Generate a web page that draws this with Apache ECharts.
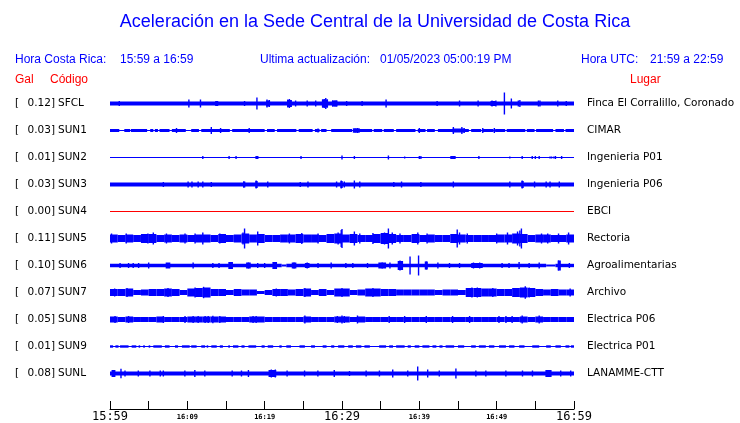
<!DOCTYPE html>
<html><head><meta charset="utf-8">
<script src="https://cdn.jsdelivr.net/npm/echarts@6/dist/echarts.min.js"></script>
<style>html,body{margin:0;padding:0;background:#fff}#c{width:740px;height:423px}</style>
</head><body><div id="c"></div>
<script>
// ---------- labels ----------
const codes = ['SFCL','SUN1','SUN2','SUN3','SUN4','SUN5','SUN6','SUN7','SUN8','SUN9','SUNL'];
const galValues = ['0.12','0.03','0.01','0.03','0.00','0.11','0.10','0.07','0.05','0.01','0.08'];
const places = ['Finca El Corralillo, Coronado','CIMAR','Ingenieria P01','Ingenieria P06','EBCI','Rectoria','Agroalimentarias','Archivo','Electrica P06','Electrica P01','LANAMME-CTT'];
const tickLabels = ['15:59','16:09','16:19','16:29','16:39','16:49','16:59'];
const traceColors = ['#0000ff','#0000ff','#0000ff','#0000ff','#ff0000','#0000ff','#0000ff','#0000ff','#0000ff','#0000ff','#0000ff'];

// ---------- trace envelopes (minutes from 15:59, half-amplitude in display units) ----------
// bands: [startMin, endMin, half]; spikes: [min, half]; env: half per minute
const SFCL_bands = [[0,60,2],[13.6,14.0,2.5],[20.2,20.7,3],[22.9,23.5,3.5],[27.4,28.2,4],[28.7,29.4,3],[49.2,49.9,2.5]];
const SFCL_spikes = [[1.2,2.5],[10.2,4],[11.7,4],[17.4,2.5],[19.0,6],[20.3,4],[20.6,3.5],[23.0,4],[23.2,4.5],[23.4,3.5],[24.0,3],[25.5,3],[26.6,3],[27.5,4],[27.7,4.5],[27.9,5.5],[28.1,4],[28.8,3],[29.1,3],[29.3,3],[30.6,2.5],[32.6,2.5],[35.7,4],[42.3,2.5],[45.2,3],[47.6,3],[49.4,3],[49.9,3],[51.0,11],[51.9,5],[52.8,3],[53.0,3.5],[55.4,3],[55.6,3],[57.9,3],[59.0,2.5]];

const SUN1_bands = [[0,60,0.5],[0,1.2,1.5],[1.85,2.6,1.5],[2.7,4.8,1.5],[5.2,5.6,1.5],[5.8,6.2,1.5],[6.4,7.7,1.5],[8.0,9.8,1.5],[10.5,11.5,1.5],[11.8,15.5,1.5],[15.8,20.0,1.5],[20.3,21.3,1.5],[21.6,24.1,1.5],[24.4,26.2,1.5],[26.5,27.1,1.5],[27.3,28.0,1.5],[28.6,31.3,1.5],[31.4,32.3,2.2],[31.6,33.9,1.5],[34.1,35.2,1.5],[35.4,36.7,1.5],[37.0,39.5,1.5],[39.8,40.8,1.5],[41.0,42.0,1.5],[42.4,45.0,1.5],[44.3,45.8,2],[45.3,46.4,1.5],[46.7,48.0,1.5],[48.2,49.6,1.5],[49.8,51.1,1.5],[51.3,53.7,1.5],[53.9,54.9,1.5],[55.1,57.3,1.5],[57.6,58.7,1.5],[58.9,60,1.5]];
const SUN1_spikes = [[8.6,2.5],[13.1,3.5],[14.3,2.5],[18.0,2.5],[26.9,2],[31.7,2],[32.0,2.5],[40.0,2.5],[44.4,3.5],[45.5,3.5],[45.8,2.5],[48.2,2.5],[49.7,2.5]];

const SUN2_bands = [[0,60,0.5],[18.8,19.2,1.5],[44.0,44.7,1.5]];
const SUN2_spikes = [[12.0,1.5],[15.4,1.5],[16.3,1.5],[24.7,1.5],[30.0,2],[31.6,1.5],[36.0,2],[38.1,1],[40.0,1.5],[40.2,1.5],[47.7,1.5],[51.7,1],[53.3,1.5],[54.6,1.5],[55.0,1.5],[55.5,1.5],[56.9,1],[57.1,1],[57.4,1],[57.6,1.5],[58.4,1.5]];

const SUN3_bands = [[0,60,2],[17.2,17.5,3],[18.8,19.1,3.5],[29.8,30.1,3.5],[53.2,53.5,3.5]];
const SUN3_spikes = [[6.9,2.5],[10.1,3],[10.6,3],[11.4,3],[12.0,3],[13.1,2.5],[17.3,3],[18.9,4],[20.4,3],[24.6,2.5],[25.6,3],[29.3,3],[29.9,4],[30.3,3],[31.6,4],[32.3,3],[36.7,2.5],[37.7,3],[40.2,2.5],[44.4,3],[51.7,3],[53.3,4],[54.9,3],[56.4,3],[56.9,3],[58.1,3]];

const SUN4_bands = [[0,60,0.5]];
const SUN4_spikes = [];

const SUN5_env = [4,3.5,4,3.5,4.5,4.5,3.5,4,3.5,4,3.5,4,4,3.5,4.5,3.5,4,5,4,4.5,3.5,3.5,4,4,4.5,4,4,3.5,4.5,5,4,4.5,3.5,3.5,4.5,5.5,4.5,3.5,3.5,4.5,3.5,4,3.5,3.5,4.5,4,3.5,3.5,3.5,3.5,4,4,5,4.5,3.5,4,4,3.5,3.5,4];
const SUN5_spikes = [[0.2,5],[2.1,5],[4.9,5],[5.6,6],[7.3,5],[9.7,5],[11.0,5],[12.0,6],[14.2,5],[17.2,6],[17.4,10],[19.1,7],[23.2,5],[24.8,5.5],[26.9,5],[29.5,6],[29.9,8.5],[30.0,9.5],[31.6,7],[32.3,5],[34.0,5.5],[35.5,6],[36.0,10],[36.5,6],[37.5,5],[39.8,6],[41.0,5],[44.9,9],[45.2,6],[46.2,5],[50.0,5],[51.4,6],[52.7,7],[53.0,8],[53.2,10],[55.8,5],[56.6,5],[58.0,5],[59.3,6]];

const SUN6_bands = [[0,22.2,1.7],[22.2,22.8,1],[22.8,56.4,1.7],[56.4,57.6,1],[57.6,60,1.7],[7.2,7.8,3],[15.3,15.9,3.5],[17.6,18.2,3],[21.0,21.6,3.5],[23.5,24.1,3],[25.2,25.8,2.5],[34.7,35.7,3],[37.2,37.9,4.5],[40.7,41.1,4],[46.7,48.2,2.5],[57.9,58.3,5]];
const SUN6_spikes = [[1.3,2.5],[2.4,2.5],[3.0,2.5],[3.7,2.5],[5.0,3],[10.75,3],[13.3,2.5],[14.1,2.5],[15.6,3.5],[17.9,3],[19.1,2.5],[20.0,2.5],[21.3,3.5],[23.8,3],[25.5,3],[26.9,2.5],[28.6,3],[30.5,2.5],[31.4,2.5],[33.3,2.5],[35.2,3],[36.2,3],[37.5,5],[38.8,9],[39.9,10],[40.9,4],[42.4,3],[43.9,2.5],[45.2,2.5],[47.0,3],[47.8,3],[50.7,2.5],[51.6,2.5],[52.9,3.5],[54.2,2.5],[55.5,3],[58.0,5],[59.4,2.5]];

const SUN7_env = [3.5,3.5,4,2.5,3,3.5,3.5,4,3.5,2.5,4,4.5,5,3.5,3.5,2.5,3.5,3,3,1.5,2.5,3.5,3.5,3,3.5,4,2.5,3.5,2.5,4,4,2.5,3,4,4,3.5,3.5,3,3,3,3,3,2.5,3,3,2.5,4.5,4.5,4,4,3.5,3.5,4.5,5,4.5,3.5,3,3.5,3,3];
const SUN7_spikes = [[0.6,4],[2.2,4.5],[7.5,4.5],[11.0,5],[12.1,5.7],[21.5,4],[25.2,4.5],[30.0,4.5],[34.0,4.5],[46.8,5],[47.5,5],[49.5,4.5],[53.7,6.3],[54.2,5],[59.5,4]];

const SUN8_env = [3,2.5,3,2.5,2.5,2.5,3,2.5,2.5,2.5,3,3,3,3,3,2.5,2.5,2.5,3,3,2.5,2.5,2.5,2.5,2.5,3,2.5,2.5,2.5,3,3,2.5,3,2.5,2.5,2.5,2.5,2.5,2.5,2.5,2.5,2.5,2.5,2.5,2.5,2.5,2.5,2.5,2.5,2.5,2.5,2.5,2.5,3,2.5,3,2.5,2.5,2.5,2.5];
const SUN8_spikes = [[0.65,3.5],[2.4,3.5],[6.9,3.5],[9.7,3.5],[10.75,3.5],[11.4,3.5],[12.3,3.5],[12.7,3.5],[13.3,3.7],[14.2,3.5],[18.5,3.5],[18.9,3.5],[25.2,4],[29.4,3.5],[30.0,4],[30.3,3.5],[32.0,4],[36.1,3.5],[38.1,3.5],[40.9,3.5],[44.3,3.5],[46.5,3.5],[50.3,3.5],[51.2,3.5],[52.0,3.5],[53.3,4],[55.5,4]];

const SUN9_bands = [[0,60,0.5],[0.0,0.4,1.2],[0.7,1.1,1.2],[1.3,2.4,1.2],[2.8,3.4,1.2],[3.7,3.9,1.2],[4.3,4.5,1.2],[5.0,5.2,1.2],[5.6,6.7,1.2],[7.1,7.7,1.2],[8.4,8.8,1.2],[9.3,10.3,1.2],[10.5,11.2,1.2],[11.8,12.3,1.2],[12.5,12.7,1.2],[13.1,13.8,1.2],[14.2,14.6,1.2],[15.3,15.5,1.2],[15.9,16.6,1.2],[17.0,17.4,1.2],[17.9,18.9,1.2],[19.6,20.0,1.2],[20.4,21.1,1.2],[21.9,22.2,1.2],[22.8,23.4,1.2],[24.5,25.2,1.2],[26.0,26.5,1.2],[27.5,28.0,1.2],[28.6,29.0,1.2],[29.5,30.3,1.2],[30.8,31.4,1.2],[31.8,32.5,1.2],[32.9,33.6,1.2],[34.8,35.7,1.2],[36.1,36.6,1.2],[37.0,38.1,1.2],[38.5,38.9,1.2],[39.4,40.0,1.2],[40.4,41.3,1.2],[41.7,42.2,1.2],[42.6,43.0,1.2],[43.4,44.5,1.2],[45.0,45.8,1.2],[46.7,47.3,1.2],[47.7,48.6,1.2],[49.0,49.7,1.2],[50.3,51.2,1.2],[51.6,52.3,1.2],[52.9,53.6,1.2],[54.6,55.5,1.2],[56.4,57.0,1.2],[57.6,58.3,1.2],[58.9,59.4,1.2],[59.6,60,1.2]];
const SUN9_spikes = [];

const SUNL_bands = [[0,60,2],[0.2,0.7,3.5],[20.5,21.5,3.5],[56.3,57.1,3.5]];
const SUNL_spikes = [[0.43,3.5],[1.42,4.7],[1.94,3],[3.66,3],[5.16,3],[6.5,3],[6.9,3],[9.68,3],[10.97,3.5],[12.26,3],[15.8,3],[17.0,3],[17.9,3.5],[20.86,4],[21.38,4],[22.9,3],[25.16,3],[26.88,3],[29.0,3.5],[30.97,2.5],[33.12,3],[34.84,3],[36.56,4],[38.5,3],[39.79,7],[41.08,4],[42.58,3],[44.73,5],[47.31,3],[48.6,3],[51.19,3],[53.34,3],[54.63,3],[56.69,3.5],[58.28,3],[59.57,3]];

const traceEnv    = {SUN5: SUN5_env, SUN7: SUN7_env, SUN8: SUN8_env};
const traceBands  = {SFCL: SFCL_bands, SUN1: SUN1_bands, SUN2: SUN2_bands, SUN3: SUN3_bands, SUN4: SUN4_bands, SUN6: SUN6_bands, SUN9: SUN9_bands, SUNL: SUNL_bands};
const traceSpikes = {SFCL: SFCL_spikes, SUN1: SUN1_spikes, SUN2: SUN2_spikes, SUN3: SUN3_spikes, SUN4: SUN4_spikes, SUN5: SUN5_spikes, SUN6: SUN6_spikes, SUN7: SUN7_spikes, SUN8: SUN8_spikes, SUN9: SUN9_spikes, SUNL: SUNL_spikes};

// ---------- layout ----------
const ROW0 = 13.5, ROWSTEP = 27;
const rowCenter = i => ROW0 + ROWSTEP * i;

const chart = echarts.init(document.getElementById('c'), null, {renderer: 'canvas'});

const series = codes.map((code, i) => {
  const c = rowCenter(i);
  const data = [];
  (traceEnv[code] || []).forEach((h, m) => data.push([m, m + 1, h, h, c]));
  (traceBands[code] || []).forEach(b => data.push([b[0], b[1], b[2], b[2], c]));
  (traceSpikes[code] || []).forEach(s => data.push([s[0], s[0], s[1], s.length > 2 ? s[2] : s[1], c]));
  const color = traceColors[i];
  return {
    type: 'custom', name: code, silent: true, animation: false,
    encode: {x: [0, 1], y: 4},
    data: data,
    renderItem: function (params, api) {
      const x0 = api.value(0), x1 = api.value(1), up = api.value(2), dn = api.value(3), cc = api.value(4);
      const a = api.coord([x0, cc - up]);
      const b = api.coord([x1, cc + dn]);
      let left = Math.min(a[0], b[0]), right = Math.max(a[0], b[0]);
      if (right - left < 1.4) { const mid = (left + right) / 2; left = mid - 0.7; right = mid + 0.7; }
      const top = Math.min(a[1], b[1]), bottom = Math.max(a[1], b[1]);
      return {type: 'rect', shape: {x: left, y: top, width: right - left, height: bottom - top}, style: {fill: color}};
    }
  };
});

chart.setOption({
  animation: false,
  grid: {left: 110, right: 166, top: 90, bottom: 14, containLabel: false},
  xAxis: {
    type: 'value', min: 0, max: 60, interval: 5, position: 'bottom',
    axisLine: {show: true, onZero: false, lineStyle: {color: '#000', width: 1}},
    axisTick: {show: true, inside: true, length: 8, lineStyle: {color: '#000', width: 1}},
    splitLine: {show: false},
    axisLabel: {
      margin: 1, showMinLabel: true, showMaxLabel: true,
      formatter: function (v) {
        if (v % 10 !== 0) return '';
        const lbl = tickLabels[v / 10];
        return (v % 30 === 0) ? '{b|' + lbl + '}' : '{s|' + lbl + '}';
      },
      rich: {
        b: {fontSize: 12, fontFamily: 'DejaVu Sans Mono', color: '#000', lineHeight: 14},
        s: {fontSize: 7, fontFamily: 'DejaVu Sans Mono', fontWeight: 'bold', color: '#000', lineHeight: 14}
      }
    }
  },
  yAxis: {type: 'value', min: 0, max: 319, inverse: true, show: false},
  series: series
});

// ---------- texts ----------
const blue = '#0000ff', red = '#ff0000';
const sans = '"Liberation Sans", Arial, sans-serif';
const dv = '"DejaVu Sans", sans-serif';
function txt(text, x, y, font, fill, align) {
  return {type: 'text', x: x, y: y, silent: true,
    style: {text: text, font: font, fill: fill, textAlign: align || 'left', textVerticalAlign: 'middle'}};
}
const g = [
  txt('Aceleración en la Sede Central de la Universidad de Costa Rica', 375, 22, '18px ' + sans, blue, 'center'),
  txt('Hora Costa Rica:', 15, 60, '12px ' + sans, blue),
  txt('15:59 a 16:59', 120, 60, '12px ' + sans, blue),
  txt('Ultima actualización:', 260, 60, '12px ' + sans, blue),
  txt('01/05/2023 05:00:19 PM', 380, 60, '12px ' + sans, blue),
  txt('Hora UTC:', 581, 60, '12px ' + sans, blue),
  txt('21:59 a 22:59', 650, 60, '12px ' + sans, blue),
  txt('Gal', 15, 80, '12px ' + sans, red),
  txt('Código', 50, 80, '12px ' + sans, red),
  txt('Lugar', 630, 80, '12px ' + sans, red)
];
codes.forEach((code, i) => {
  const y = chart.convertToPixel({gridIndex: 0}, [0, rowCenter(i)])[1];
  g.push(txt('[', 15, y, '10.5px ' + dv, '#000'));
  g.push(txt(galValues[i] + ']', 55, y, '10.5px ' + dv, '#000', 'right'));
  g.push(txt(code, 58, y, '10.5px ' + dv, '#000'));
  g.push(txt(places[i], 587, y, '10.5px ' + dv, '#000'));
});
chart.setOption({graphic: {elements: g}});
</script>
</body></html>
